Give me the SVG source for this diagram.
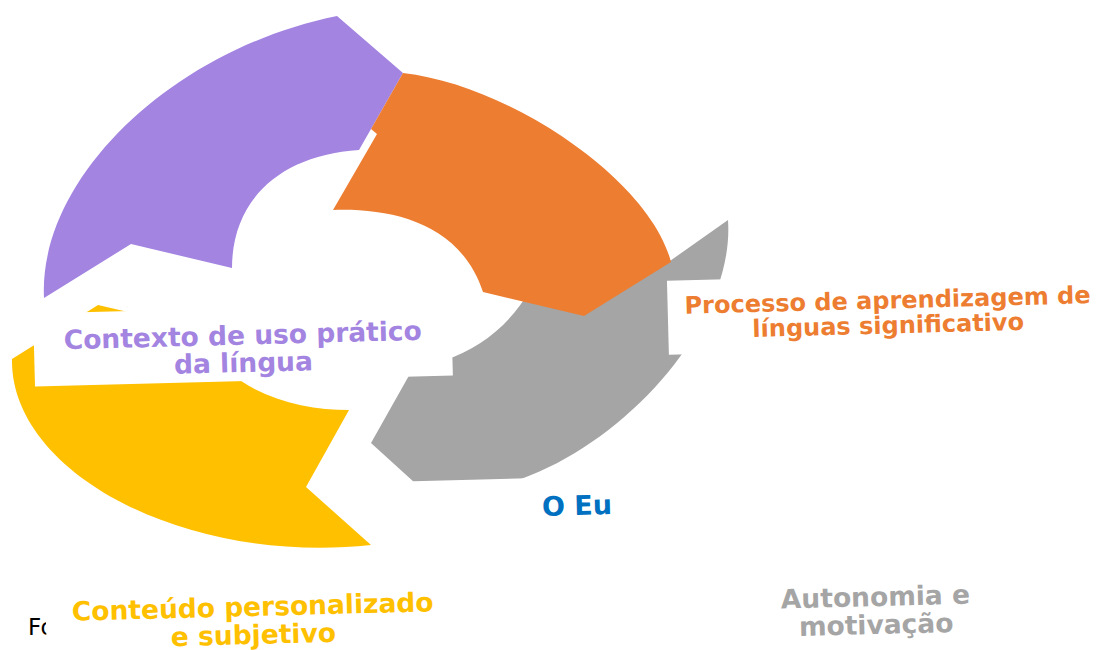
<svg xmlns="http://www.w3.org/2000/svg" width="1098" height="650" viewBox="0 0 1098 650">
<style>
.lbl{font-family:"DejaVu Sans",Verdana,sans-serif;font-weight:bold;text-anchor:middle}
.bg{fill:#ffffff}
.purple{fill:#A384E1}
.orange{fill:#ED7D31}
.gray{fill:#A5A5A5}
.yellow{fill:#FFC000}
</style>
<rect width="1098" height="650" fill="#ffffff"/>
<g id="source-note">
<text x="28" y="635" font-family="DejaVu Sans,sans-serif" font-size="23" fill="#000000">Fo</text>
</g>
<g id="connectors">
<path class="gray" d="M728,220 C735,320 630,440 521,479 L415,483 L371,443 L420,356 L445,360 C480,348 510,325 530,290 L548,255 L660,268 Z"/>
<path class="yellow" d="M371,545 L306,487 L349,410 C300,410 240,395 210,350 L205,330 L98,305 L12,359 C10,470 180,565 371,545 Z"/>
<path class="purple" d="M44,298 C38,180 170,50 337,16 L403,73 L359,150 C280,155 232,200 232,268 L131,244 Z"/>
<path class="orange" d="M403,73 C510,85 650,180 671,262 L584,316 L483,292 C460,222 390,208 333,210 L377,134 L371,129 Z"/>
</g>
<g id="node-processo" transform="rotate(-1.5 888 318)">
<rect class="bg" x="668" y="275" width="442" height="74"/>
<text class="lbl" x="888" y="308.5" font-size="24" fill="#ED7D31">Processo de aprendizagem de</text>
<text class="lbl" x="888" y="333.5" font-size="24" fill="#ED7D31">línguas significativo</text>
</g>
<g id="node-contexto" transform="rotate(-1.5 243 345)">
<rect class="bg" x="34" y="308" width="418" height="73"/>
<text class="lbl" x="243" y="344.5" font-size="26.5" fill="#A384E1">Contexto de uso prático</text>
<text class="lbl" x="243" y="372" font-size="26.5" fill="#A384E1">da língua</text>
</g>
<g id="node-eu" transform="rotate(-1.5 577 505)">
<rect class="bg" x="395" y="477" width="364" height="60"/>
<text class="lbl" x="577" y="515" font-size="27" fill="#0070C0">O Eu</text>
</g>
<g id="node-conteudo" transform="rotate(-1.5 253 620)">
<rect class="bg" x="46" y="580" width="414" height="74"/>
<text class="lbl" x="253" y="616" font-size="26.5" fill="#FFC000">Conteúdo personalizado</text>
<text class="lbl" x="253" y="644" font-size="26.5" fill="#FFC000">e subjetivo</text>
</g>
<g id="node-autonomia" transform="rotate(-1.5 876 620)">
<rect class="bg" x="670" y="570" width="412" height="74"/>
<text class="lbl" x="876" y="606" font-size="26.5" fill="#A5A5A5">Autonomia e</text>
<text class="lbl" x="876" y="634" font-size="26.5" fill="#A5A5A5">motivação</text>
</g>
</svg>
